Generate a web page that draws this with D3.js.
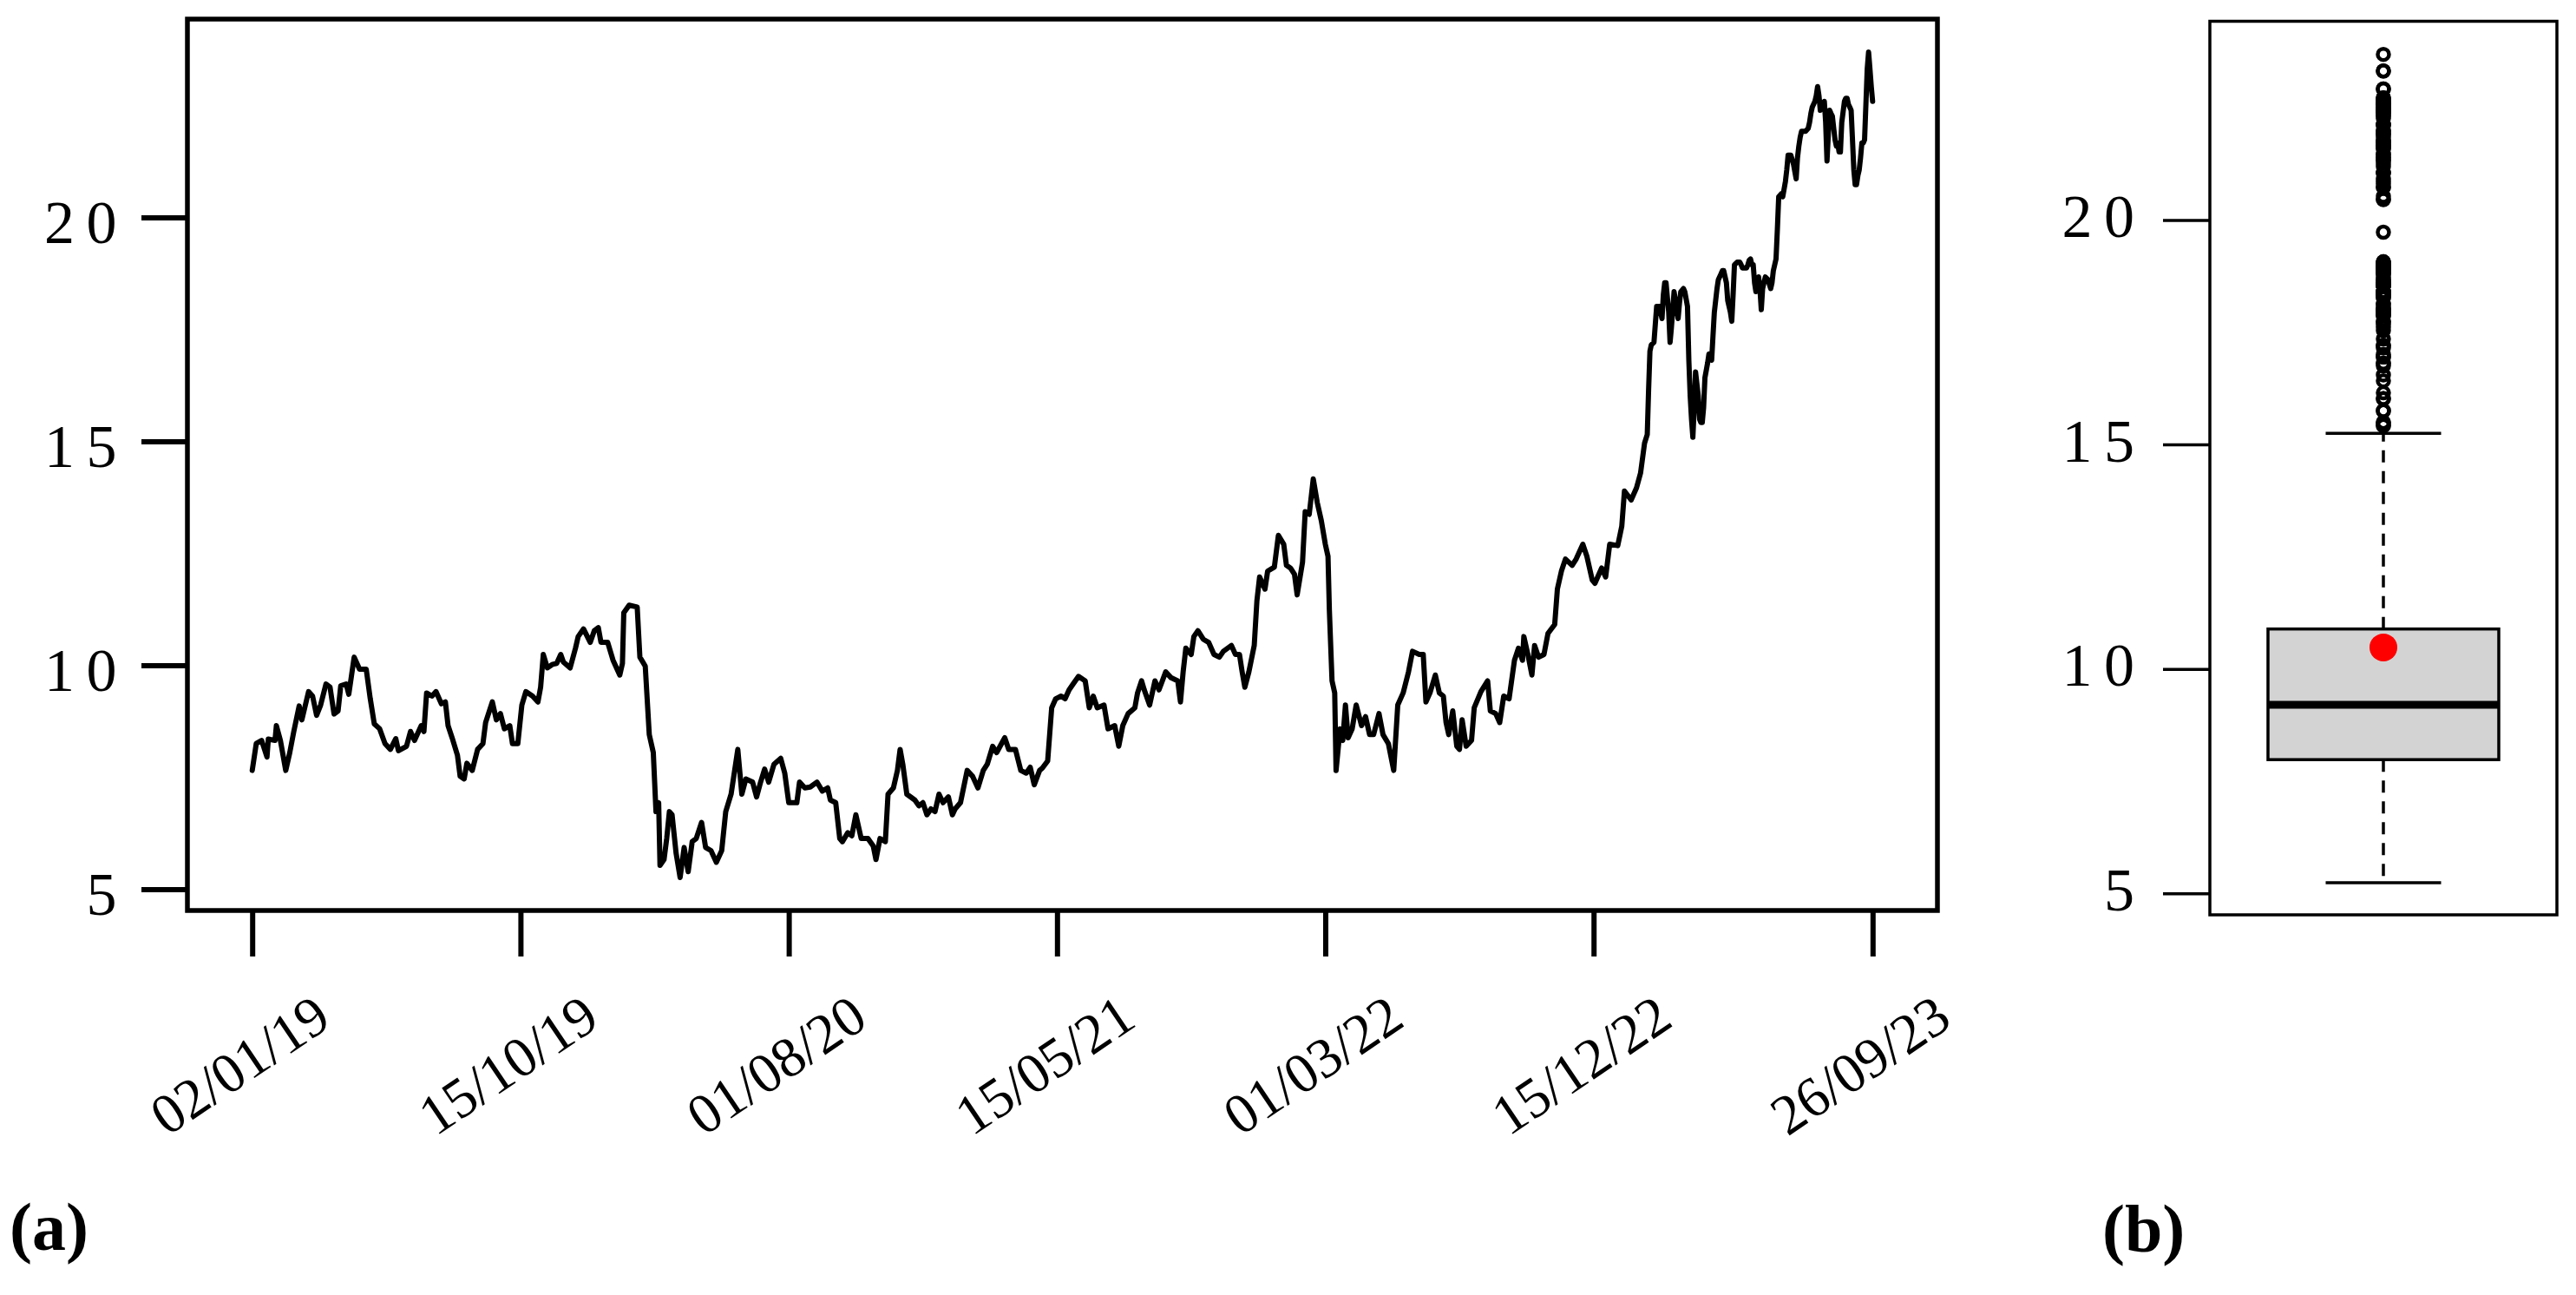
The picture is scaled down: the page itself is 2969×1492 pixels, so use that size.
<!DOCTYPE html>
<html><head><meta charset="utf-8">
<script src="https://cdn.jsdelivr.net/npm/d3@7"></script>
<style>html,body{margin:0;padding:0;background:#fff;} svg{display:block;}</style>
</head><body>
<svg id="chart" width="2969" height="1492"></svg>
<script>
// ---- data ----
const dayIndex = [
0,3,7,11,12,17,18,21,25,28,31,35,37,42,45,48,51,55,58,61,64,66,70,72,76,80,85,88,91,95,99,103,107,109,115,118,121,126,128,130,134,137,141,144,146,149,153,155,158,160,164,168,172,174,179,182,185,188,192,194,198,201,204,209,213,215,217,220,224,227,230,232,237,241,243,247,252,255,258,260,265,
269,274,276,277,281,287,289,293,296,299,301,303,304,307,309,311,313,316,319,322,325,328,331,335,338,342,346,350,353,357,362,365,368,373,376,379,382,385,389,394,397,400,406,408,412,416,421,425,429,431,435,438,440,444,447,450,454,459,463,465,468,472,474,478,481,483,485,488,494,497,500,503,506,509,512,515,519,522,524,528,533,537,541,545,548,552,555,561,564,569,573,577,580,583,587,
589,593,596,599,603,606,609,612,616,621,624,627,630,635,638,643,646,649,653,658,660,663,665,669,673,676,681,685,690,692,694,696,700,702,705,709,713,717,721,724,730,733,736,738,740,743,747,749,751,755,757,762,765,769,771,774,777,779,783,785,788,791,794,797,800,802,803,805,807,808,811,813,815,817,820,823,827,830,833,836,840,843,847,851,854,858,862,865,870,873,875,878,882,885,888,890,892,895,898,900,902,905,909,911,
916,921,923,927,930,933,937,941,944,947,948,951,954,956,959,963,966,971,973,976,979,984,987,992,995,999,1001,1006,1009,1012,1018,1021,1023,1028,1032,1035,
1038,1040,1041,1042,1043,1045,1046,1047,1049,1051,
1052,1053,1054,1056,1057,1058,1059,1060,1061,1063,
1064,1065,1067,1068,1070,1071,1072,1073,1074,1075,
1076,1078,1079,1080,1081,1082,1083,1085,1086,1087,
1088,1089,1090,1092,1093,1095,1096,1097,1099,1100,
1101,1102,1103,1104,1105,1107,1109,1110,1111,1114,
1115,1116,1117,1118,1119,1120,1121,1122,1123,1124,
1125,1126,1128,1130,1132,1133,1134,1136,1137,1138,
1140,1141,1143,1144,1145,1147,1149,1151,1152,1153,
1154,1155,1158,1160,1161,1162,1163,1165,1166,1167,
1168,1169,1170,1172,1173,1174,1175,1176,1177,1178,
1179,1180,1181,1182,1183,1184,1185,1187,1188,1189,
1190,1191,1192,1193,1194,1195,1196,1197,1198,1199,
1200,1201,1202,1203,1204,1205,1206,1207,1208
];
const price = [
7.65,8.25,8.32,7.95,8.35,8.32,8.65,8.32,7.65,8.05,8.52,9.09,8.78,9.41,9.31,8.88,9.11,9.58,9.51,8.91,8.98,9.54,9.58,9.35,10.18,9.91,9.91,9.25,8.69,8.58,8.25,8.12,8.36,8.09,8.19,8.52,8.32,8.65,8.52,9.38,9.31,9.41,9.14,9.18,8.65,8.38,7.99,7.52,7.46,7.81,7.65,8.12,8.25,8.72,9.18,8.78,8.92,8.58,8.65,8.25,8.25,9.11,9.41,9.31,9.18,9.51,10.24,9.94,10.02,10.04,10.24,10.07,9.94,10.38,10.64,10.81,10.51,10.77,10.84,10.51,10.51,
10.11,9.78,10.04,11.17,11.34,11.30,10.18,9.98,8.45,8.05,6.73,6.93,5.53,5.66,6.13,6.73,6.66,5.80,5.26,5.93,5.39,6.06,6.13,6.49,5.93,5.86,5.60,5.86,6.73,7.12,8.12,7.12,7.46,7.39,7.06,7.39,7.68,7.39,7.79,7.92,7.59,6.93,6.93,7.39,7.26,7.28,7.39,7.19,7.26,6.99,6.93,6.13,6.06,6.26,6.19,6.66,6.13,6.13,5.96,5.66,6.13,6.06,7.12,7.26,7.65,8.12,7.79,7.12,6.99,6.86,6.93,6.66,6.79,6.73,7.12,6.93,7.06,6.66,6.79,6.93,7.65,7.52,7.26,7.65,7.79,8.19,8.05,8.38,8.12,8.12,7.65,7.59,7.72,7.33,7.65,
7.70,7.86,9.05,9.25,9.31,9.25,9.45,9.58,9.75,9.65,9.05,9.31,9.05,9.11,8.58,8.65,8.19,8.65,8.92,9.05,9.38,9.65,9.45,9.11,9.65,9.45,9.85,9.72,9.65,9.18,9.85,10.38,10.24,10.64,10.77,10.58,10.51,10.24,10.18,10.31,10.44,10.24,10.24,9.85,9.51,9.85,10.44,11.44,11.97,11.70,12.10,12.19,12.90,12.70,12.23,12.17,12.03,11.57,12.30,13.43,13.37,14.16,13.63,13.23,12.70,12.43,11.24,9.65,9.38,7.65,8.58,8.32,9.11,8.38,8.58,9.11,8.65,8.85,8.45,8.45,8.92,8.45,8.25,7.65,9.11,9.38,9.85,10.31,10.24,10.24,9.18,9.38,9.78,9.38,9.31,8.72,8.45,8.98,8.19,8.12,8.78,8.19,8.32,9.05,
9.41,9.65,8.98,8.92,8.72,9.31,9.25,10.11,10.38,10.11,10.64,10.24,9.78,10.44,10.18,10.24,10.71,10.91,11.70,12.10,12.37,12.23,12.37,12.70,12.43,11.90,11.83,12.17,11.97,12.70,12.67,13.10,13.89,13.69,13.96,14.29,
14.96,15.15,16.15,17.01,17.15,17.21,17.61,18.01,18.01,17.74,
18.27,18.54,18.54,17.88,17.21,17.54,17.94,18.34,18.14,17.74,
18.08,18.34,18.41,18.34,18.01,16.81,16.02,15.49,15.09,15.75,
16.55,16.02,15.49,15.42,15.42,15.75,16.42,16.75,16.95,16.95,
16.81,17.35,17.88,18.41,18.61,18.74,18.81,18.81,18.54,18.14,
18.01,17.88,17.68,18.27,18.94,19.00,19.00,18.94,18.87,18.87,
18.94,19.04,19.07,18.94,18.94,18.54,18.34,18.61,18.67,18.41,
17.94,18.41,18.67,18.61,18.41,18.54,18.81,19.07,19.73,20.46,
20.53,20.46,20.80,21.06,21.39,21.39,21.19,20.86,21.33,21.59,
21.79,21.92,21.92,21.99,22.12,22.32,22.46,22.59,22.72,22.92,
22.72,22.39,22.46,22.59,22.12,21.26,21.86,22.39,22.32,22.26,
21.99,21.73,21.59,21.66,21.46,21.46,22.12,22.59,22.66,22.66,
22.52,22.46,22.39,21.73,21.06,20.73,20.73,20.93,21.06,21.33,
21.66,21.66,21.73,22.52,23.32,23.69,23.32,22.92,22.59
];
const tickIndex = [0, 200, 400, 600, 800, 1000, 1208];
const tickLabels = ["02/01/19", "15/10/19", "01/08/20", "15/05/21", "01/03/22", "15/12/22", "26/09/23"];
const yTickValues = [5, 10, 15, 20];
const boxStatNames = ["lowerWhisker", "q1", "median", "q3", "upperWhisker"];
const boxStatValues = [5.24, 7.98, 9.20, 10.89, 15.25];
const meanValue = [10.48];
const panelLabels = ["(a)", "(b)"];

// ---- layout ----
const svg = d3.select("#chart");
svg.append("rect").attr("width", 2969).attr("height", 1492).attr("fill", "#fff");
const serif = "'Liberation Serif', 'Times New Roman', serif";
const series = dayIndex.map((d, i) => ({i: d, v: price[i]}));

const L = {x0: 216, x1: 2233, y0: 22, y1: 1049};
const B = {x0: 2547, x1: 2947, y0: 24.5, y1: 1054};

const [iMin, iMax] = d3.extent(dayIndex);
const iPad = (iMax - iMin) * 0.04;
const x = d3.scaleLinear().domain([iMin - iPad, iMax + iPad]).range([L.x0, L.x1]);
const [vMin, vMax] = d3.extent(price);
const vPad = (vMax - vMin) * 0.04;
const y = d3.scaleLinear().domain([vMin - vPad, vMax + vPad]).range([L.y1, L.y0]);
const yb = d3.scaleLinear().domain([vMin - vPad, vMax + vPad]).range([B.y1, B.y0]);
const xb = d3.scaleLinear().domain([0.5, 1.5]).range([B.x0, B.x1]);

// ---- panel (a) ----
const gA = svg.append("g");
gA.append("path").datum(series)
  .attr("fill", "none").attr("stroke", "#000").attr("stroke-width", 6)
  .attr("stroke-linejoin", "round").attr("stroke-linecap", "round")
  .attr("d", d3.line().x(d => x(d.i)).y(d => y(d.v)));
gA.append("rect").attr("x", L.x0).attr("y", L.y0).attr("width", L.x1 - L.x0).attr("height", L.y1 - L.y0)
  .attr("fill", "none").attr("stroke", "#000").attr("stroke-width", 5.5);

// y axis
const yAx = gA.append("g").attr("transform", `translate(${L.x0},0)`)
  .call(d3.axisLeft(y).tickValues(yTickValues).tickSize(53).tickFormat(d3.format("d")));
yAx.select(".domain").remove();
yAx.selectAll(".tick line").attr("stroke", "#000").attr("stroke-width", 6);
yAx.selectAll(".tick text").attr("font-family", serif).attr("font-size", 70).attr("fill", "#000")
  .attr("letter-spacing", 13.5).attr("x", 148 - L.x0).attr("dy", null).attr("y", 29)
  .attr("text-anchor", "end");

// x axis
const xAx = gA.append("g").attr("transform", `translate(0,${L.y1})`)
  .call(d3.axisBottom(x).tickValues(tickIndex).tickSize(53).tickFormat((d, i) => tickLabels[i]));
xAx.select(".domain").remove();
xAx.selectAll(".tick line").attr("stroke", "#000").attr("stroke-width", 6);
xAx.selectAll(".tick text").attr("font-family", serif).attr("font-size", 65).attr("fill", "#000")
  .attr("y", null).attr("dy", null).attr("text-anchor", "middle").attr("dominant-baseline", "central")
  .attr("transform", "translate(-15,178) rotate(-34)");

// ---- panel (b) ----
const gB = svg.append("g");
const cx = xb(1);
const boxHalf = (xb(1.5) - xb(0.5)) * 0.3325;
const capHalf = boxHalf / 2;
const st = Object.fromEntries(boxStatNames.map((n, i) => [n, boxStatValues[i]]));

gB.append("rect").attr("x", B.x0).attr("y", B.y0).attr("width", B.x1 - B.x0).attr("height", B.y1 - B.y0)
  .attr("fill", "none").attr("stroke", "#000").attr("stroke-width", 3.5);

const ybAx = gB.append("g").attr("transform", `translate(${B.x0},0)`)
  .call(d3.axisLeft(yb).tickValues(yTickValues).tickSize(54).tickFormat(d3.format("d")));
ybAx.select(".domain").remove();
ybAx.selectAll(".tick line").attr("stroke", "#000").attr("stroke-width", 3.5);
ybAx.selectAll(".tick text").attr("font-family", serif).attr("font-size", 70).attr("fill", "#000")
  .attr("letter-spacing", 13.5).attr("x", 2473.5 - B.x0).attr("dy", null).attr("y", 19)
  .attr("text-anchor", "end");

// whiskers (dashed)
gB.selectAll("line.whisk").data([[st.q3, st.upperWhisker], [st.q1, st.lowerWhisker]]).join("line")
  .attr("class", "whisk").attr("x1", cx).attr("x2", cx)
  .attr("y1", d => yb(d[0])).attr("y2", d => yb(d[1]))
  .attr("stroke", "#000").attr("stroke-width", 3.5).attr("stroke-dasharray", "14,10");
// caps
gB.selectAll("line.cap").data([st.upperWhisker, st.lowerWhisker]).join("line")
  .attr("class", "cap").attr("x1", cx - capHalf).attr("x2", cx + capHalf)
  .attr("y1", d => yb(d)).attr("y2", d => yb(d))
  .attr("stroke", "#000").attr("stroke-width", 3.5);
// box
gB.append("rect").attr("x", cx - boxHalf).attr("width", 2 * boxHalf)
  .attr("y", yb(st.q3)).attr("height", yb(st.q1) - yb(st.q3))
  .attr("fill", "#d3d3d3").attr("stroke", "#000").attr("stroke-width", 3.5);
// median
gB.append("line").attr("x1", cx - boxHalf).attr("x2", cx + boxHalf)
  .attr("y1", yb(st.median)).attr("y2", yb(st.median))
  .attr("stroke", "#000").attr("stroke-width", 9);
// outliers: series values beyond the upper whisker
gB.selectAll("circle.out").data(price.filter(v => v > st.upperWhisker)).join("circle")
  .attr("class", "out").attr("cx", cx).attr("cy", d => yb(d)).attr("r", 6.5)
  .attr("fill", "none").attr("stroke", "#000").attr("stroke-width", 4.5);
// mean
gB.selectAll("circle.mean").data(meanValue).join("circle")
  .attr("class", "mean").attr("cx", cx).attr("cy", d => yb(d)).attr("r", 16).attr("fill", "#ff0000");

// panel labels
svg.selectAll("text.panel").data(panelLabels).join("text")
  .attr("class", "panel")
  .attr("x", (d, i) => i === 0 ? 11 : 2423)
  .attr("y", (d, i) => i === 0 ? 1440 : 1442)
  .attr("font-family", serif).attr("font-weight", "bold").attr("font-size", 78).attr("fill", "#000")
  .text(d => d);
</script>
</body></html>
